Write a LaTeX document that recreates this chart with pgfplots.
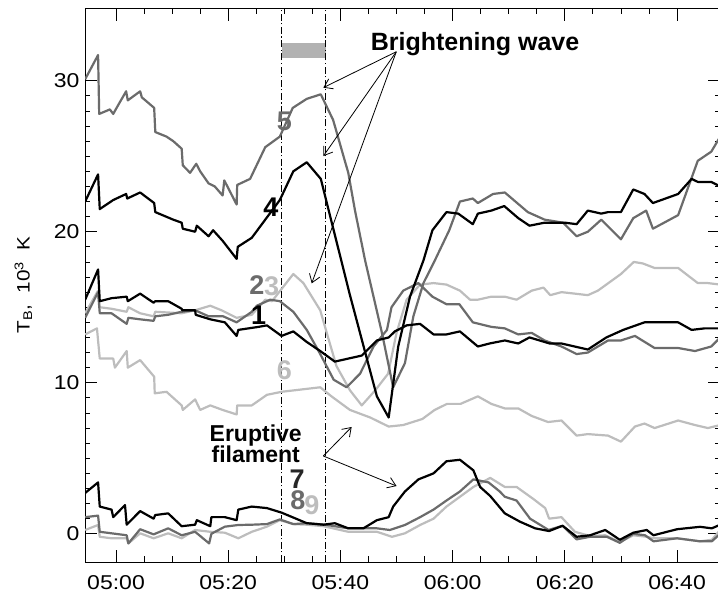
\documentclass[border=0pt]{standalone}
\usepackage{fontspec}
\setmainfont{Liberation Sans}
\newfontfamily\tickfont{Liberation Sans}[FakeStretch=1.15]
\usepackage{pgfplots}
\usepackage{pgfplotstable}
\pgfplotsset{compat=1.18}
\usetikzlibrary{arrows.meta}
\definecolor{cdark}{gray}{0.42}
\definecolor{clight}{gray}{0.74}
\definecolor{cbar}{gray}{0.70}

\pgfplotstableread{
t v
-5.5 15.5
-3.2 17.5
-2.9 15.4
-0.8 15.6
1.9 15.7
2.1 15.4
4.3 15.9
6.7 15.3
7.0 15.4
9.3 15.4
11.7 14.9
11.8 14.8
14.1 14.8
14.2 14.5
16.8 14.2
19.4 14.0
21.5 13.1
21.8 13.5
25.4 13.7
26.9 13.8
29.5 13.1
31.6 13.4
34.0 12.7
36.4 12.1
39.0 11.4
43.8 11.8
46.5 12.8
48.6 13.0
49.7 13.4
51.8 13.8
54.2 13.9
56.6 13.2
58.9 13.2
61.3 13.4
64.5 12.4
66.6 12.6
69.3 12.8
71.7 12.6
73.7 13.0
77.3 12.6
79.4 12.6
84.1 12.2
87.4 13.0
90.4 13.5
94.2 14.0
100.2 14.0
102.6 13.5
104.9 13.6
107.7 13.6
}\cOne

\pgfplotstableread{
t v
-5.5 14.3
-3.2 16.0
-2.9 14.6
-0.8 14.6
1.9 13.9
2.2 14.3
4.3 14.2
6.7 14.1
7.0 14.4
9.3 14.5
11.7 14.7
14.1 14.8
16.5 14.4
19.1 14.4
21.5 14.0
24.2 14.7
25.1 15.1
27.5 15.5
29.2 15.4
31.6 14.7
34.0 13.5
36.4 11.9
38.8 10.2
41.1 9.7
43.5 10.6
45.9 12.4
48.3 13.5
49.1 15.0
51.2 16.1
53.9 16.6
56.4 15.7
58.9 15.2
61.2 15.2
63.6 14.0
66.9 13.7
69.3 13.6
71.7 13.2
74.1 13.3
76.4 12.8
79.4 12.4
82.1 11.9
84.1 12.0
87.7 12.8
90.0 12.8
92.5 13.1
96.0 12.3
100.2 12.3
103.2 12.1
106.1 12.4
107.7 13.0
}\cTwo

\pgfplotstableread{
t v
-5.5 14.6
-3.2 16.1
-2.9 15.0
-0.8 14.9
1.9 14.7
2.2 15.0
4.3 14.6
6.7 14.4
7.0 14.7
11.7 14.6
14.1 14.8
16.8 15.1
18.8 14.8
21.5 14.3
24.2 14.5
26.6 15.5
27.8 15.4
31.6 17.2
33.4 16.6
36.4 14.8
37.8 13.0
39.3 11.1
41.7 9.5
43.8 8.5
46.2 9.5
48.5 10.6
50.0 13.3
51.8 15.5
54.2 16.5
56.6 16.6
58.9 16.5
61.3 16.1
63.1 15.5
64.5 15.5
66.9 15.7
69.3 15.7
71.4 15.5
74.1 16.1
76.2 16.3
77.4 15.8
79.4 16.0
81.8 15.9
84.1 15.8
85.9 16.1
90.0 17.2
92.3 18.0
93.9 17.9
96.0 17.6
100.2 17.6
103.7 16.6
105.5 16.6
107.7 16.5
}\cThree

\pgfplotstableread{
t v
-5.5 22.0
-3.2 23.8
-2.9 21.5
-0.5 22.1
1.8 22.5
2.0 22.2
4.3 22.6
6.8 21.9
7.0 21.3
10.2 20.8
11.7 20.6
11.9 20.2
14.1 20.0
14.4 20.4
16.5 19.7
17.3 20.1
19.0 19.4
21.5 18.2
21.7 19.0
24.2 19.6
29.2 22.1
31.6 24.0
34.0 24.6
36.5 23.5
41.7 15.8
46.5 9.1
48.6 7.7
50.3 12.4
52.4 15.7
54.8 18.1
56.4 20.1
58.9 21.3
61.0 21.2
63.6 20.5
64.5 21.2
66.9 21.4
69.2 21.7
71.7 20.9
73.7 20.4
76.4 20.6
80.0 20.6
82.1 20.5
84.1 21.4
86.5 21.2
87.7 21.3
90.0 21.3
92.2 22.8
94.2 22.5
95.7 21.9
100.2 22.5
102.6 23.5
103.7 23.3
106.1 23.3
107.7 23.0
}\cFour

\pgfplotstableread{
t v
-5.5 30.1
-3.2 31.7
-3.0 27.8
-1.1 28.1
-0.5 27.8
0.1 28.2
1.8 29.3
2.1 28.7
4.3 29.3
4.6 28.9
6.8 28.2
7.0 26.6
9.0 26.3
10.2 26.0
11.7 25.5
11.9 24.4
13.2 23.9
14.3 24.5
15.0 24.0
16.5 23.2
17.6 23.0
19.0 22.4
19.3 23.4
21.5 21.8
21.6 23.1
23.9 23.5
26.6 25.6
29.2 26.3
31.5 28.2
34.0 28.8
36.5 29.1
38.7 27.4
41.4 23.9
42.6 21.4
44.4 18.1
47.4 13.3
49.4 9.7
51.5 11.3
53.0 14.4
54.8 16.6
56.7 18.0
59.4 20.1
61.3 22.0
63.6 22.2
64.5 21.9
67.2 22.5
69.3 22.6
73.4 21.3
76.4 20.8
79.7 20.6
82.1 19.7
84.1 20.0
86.5 20.8
90.0 19.5
92.2 20.9
94.5 21.4
95.7 20.2
100.2 21.1
103.7 24.7
106.1 25.3
107.7 26.3
}\cFive

\pgfplotstableread{
t v
-5.5 13.2
-3.4 13.6
-2.9 11.6
-0.5 11.6
-0.2 11.0
1.9 12.1
2.1 11.0
4.3 11.5
6.8 10.4
6.9 9.3
9.0 9.4
11.7 8.5
11.9 8.2
14.1 8.9
15.0 8.2
16.8 8.5
19.0 8.2
21.5 7.9
21.6 8.5
24.2 8.5
26.9 9.2
29.5 9.4
36.4 9.7
38.4 9.1
41.7 8.2
45.3 7.7
48.6 7.1
51.2 7.2
54.6 7.6
56.8 8.2
59.0 8.6
61.4 8.6
64.5 9.1
66.9 8.6
69.3 8.3
71.7 8.3
74.1 7.8
77.0 7.4
79.4 7.5
82.1 6.5
84.1 6.6
87.7 6.5
90.0 6.1
92.5 7.1
94.2 7.3
96.0 7.0
100.2 7.5
103.2 7.2
105.5 7.0
107.7 7.2
}\cSix

\pgfplotstableread{
t v
-5.5 2.7
-3.2 3.4
-2.9 1.8
-0.8 1.6
-0.5 1.1
1.6 1.9
1.9 0.6
4.3 1.5
6.7 1.0
7.0 1.24
9.3 1.35
11.7 0.5
14.1 0.6
14.4 0.9
16.8 0.5
17.0 1.1
19.4 1.1
21.5 0.9
21.8 1.6
24.2 1.8
26.9 1.7
29.5 1.4
34.0 0.7
37.0 0.6
39.0 0.7
41.4 0.36
44.1 0.36
46.5 0.9
48.6 1.1
49.4 1.8
51.5 2.8
53.9 3.6
56.6 4.0
58.9 4.8
61.3 4.9
63.7 4.2
64.9 3.1
66.7 2.5
69.3 1.35
72.0 0.8
74.7 0.36
77.2 0.18
79.6 0.53
82.1 -0.2
84.5 -0.1
87.2 0.25
89.8 -0.4
92.2 0.07
94.6 0.25
95.8 -0.1
100.0 0.3
104.1 0.46
106.2 0.36
107.7 0.6
}\cSeven

\pgfplotstableread{
t v
-5.5 1.1
-3.2 1.2
-2.9 0.13
-0.8 0.03
1.9 -0.1
2.2 -0.64
4.3 0.3
6.7 -0.04
9.3 0.36
11.7 -0.1
14.1 0.13
16.6 -0.64
17.0 0.0
19.4 0.47
21.8 0.58
24.2 0.6
26.9 0.64
29.2 0.95
31.6 0.64
34.0 0.7
37.3 0.6
41.4 0.36
46.5 0.36
48.8 0.25
51.5 0.58
54.2 1.1
56.6 1.6
58.9 2.2
61.3 2.8
63.7 3.6
66.4 3.4
68.4 2.8
69.3 2.45
71.4 2.2
73.8 1.0
77.1 0.25
79.6 0.53
82.1 -0.37
84.5 -0.2
87.5 -0.2
89.8 -0.6
92.2 0.0
94.3 -0.1
95.8 -0.5
100.0 -0.3
104.1 -0.5
106.2 -0.5
107.7 0.0
}\cEight

\pgfplotstableread{
t v
-5.5 0.25
-3.2 0.58
-2.9 -0.2
-0.8 -0.3
1.9 -0.3
2.2 -0.64
4.3 0.03
6.7 -0.3
9.3 0.03
11.7 -0.3
14.1 0.25
16.8 0.13
19.4 0.07
21.8 -0.3
24.2 0.13
26.9 0.47
29.2 0.9
31.6 0.64
34.0 0.6
37.0 0.5
41.4 0.13
46.5 0.13
49.2 -0.2
51.5 0.03
54.2 0.58
56.6 1.0
58.9 1.8
61.3 2.45
63.7 3.1
66.7 3.7
69.3 3.1
71.4 3.1
74.4 2.3
76.5 1.7
77.2 1.0
79.4 1.1
81.8 0.13
84.5 -0.15
87.2 -0.1
89.8 -0.55
92.2 -0.1
94.6 -0.2
95.8 -0.3
100.0 -0.3
104.1 -0.5
106.2 -0.4
107.7 0.25
}\cNine

\begin{document}
\begin{tikzpicture}
\useasboundingbox (0,0) rectangle (718bp,597bp);
\begin{axis}[
  at={(85bp,35bp)}, anchor=south west,
  scale only axis, width=635bp, height=553bp,
  xmin=-5.53, xmax=107.66, ymin=-1.87, ymax=34.75,
  xtick={0,20,40,60,80,100},
  xticklabels={05:00,05:20,05:40,06:00,06:20,06:40},
  minor x tick num=3,
  ytick={0,10,20,30}, minor y tick num=9,
  tick align=inside,
  major tick length=11.7bp, minor tick length=5.5bp,
  every tick/.style={black, line width=0.8bp},
  axis line style={line width=1bp},
  /pgf/number format/assume math mode=true,
  ticklabel style={font=\tickfont\fontsize{20bp}{22bp}\selectfont},
  xticklabel style={yshift=-10bp},
  yticklabel style={xshift=-2bp},
  every axis plot/.append style={line width=2.2bp, line join=round, mark=none},
]
\fill[cbar] (axis cs:29.54,31.48) rectangle (axis cs:37.38,32.52);
\draw[black, line width=0.8bp, dash pattern=on 7bp off 2.5bp on 1.2bp off 2.5bp] (axis cs:29.54,-1.87) -- (axis cs:29.54,34.75);
\draw[black, line width=0.8bp, dash pattern=on 7bp off 2.5bp on 1.2bp off 2.5bp] (axis cs:37.38,-1.87) -- (axis cs:37.38,34.75);

\addplot[clight] table[x=t,y=v] {\cNine};
\addplot[clight] table[x=t,y=v] {\cSix};
\addplot[clight] table[x=t,y=v] {\cThree};
\addplot[cdark] table[x=t,y=v] {\cEight};
\addplot[cdark] table[x=t,y=v] {\cTwo};
\addplot[cdark] table[x=t,y=v] {\cFive};
\addplot[black] table[x=t,y=v] {\cSeven};
\addplot[black] table[x=t,y=v] {\cOne};
\addplot[black] table[x=t,y=v] {\cFour};

\tikzset{lab/.style={font=\bfseries\fontsize{27bp}{27bp}\selectfont, inner sep=0pt}}
\node[lab, text=cdark] at (axis cs:30.0,27.3) {5};
\node[lab, text=black] at (axis cs:27.6,21.6) {4};
\node[lab, text=cdark] at (axis cs:25.1,16.5) {2};
\node[lab, text=clight] at (axis cs:27.75,16.36) {3};
\node[lab, text=black] at (axis cs:25.4,14.46) {1};
\node[lab, text=clight] at (axis cs:30.0,10.82) {6};
\node[lab, text=black!85] at (axis cs:32.3,3.58) {7};
\node[lab, text=cdark] at (axis cs:32.4,2.25) {8};
\node[lab, text=clight] at (axis cs:34.9,1.88) {9};

\node[anchor=base, font=\bfseries\fontsize{25bp}{25bp}\selectfont, inner sep=0pt] at (axis cs:64.0,32.0) {Brightening wave};
\node[anchor=base, font=\bfseries\fontsize{23bp}{23bp}\selectfont, inner sep=0pt] at (axis cs:24.9,6.14) {Eruptive};
\node[anchor=base, font=\bfseries\fontsize{23bp}{23bp}\selectfont, inner sep=0pt] at (axis cs:24.9,4.75) {filament};

\tikzset{arr/.style={black, line width=0.8bp, -{Straight Barb[length=8bp,width=11bp]}}}
\draw[arr] (axis cs:49.96,31.92) -- (axis cs:36.95,29.54);
\draw[arr] (axis cs:49.96,31.92) -- (axis cs:36.95,25.01);
\draw[arr] (axis cs:49.96,31.92) -- (axis cs:34.88,16.58);
\draw[arr] (axis cs:36.95,5.15) -- (axis cs:42.0,7.07);
\draw[arr] (axis cs:36.95,5.15) -- (axis cs:50.0,3.16);
\end{axis}
\node[rotate=90, anchor=base, font=\tickfont\fontsize{18bp}{18bp}\selectfont, inner sep=0pt] at (29.5bp,312bp) {T\textsubscript{B}, \ 10\textsuperscript{3} \ K};
\end{tikzpicture}
\end{document}
